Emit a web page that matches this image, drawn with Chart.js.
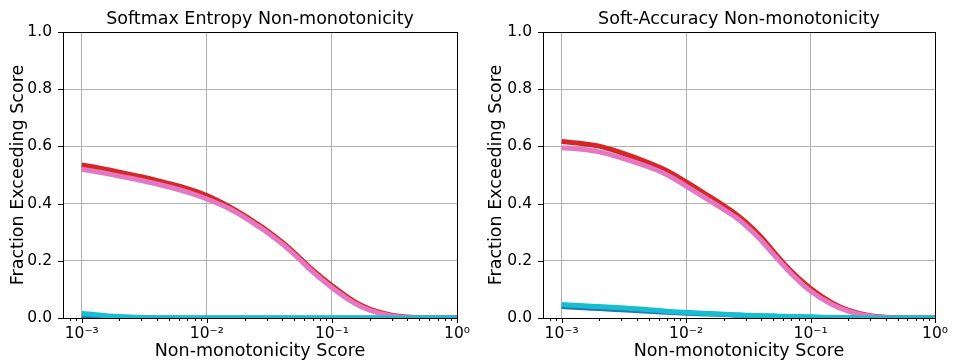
<!DOCTYPE html>
<html>
<head>
<meta charset="utf-8">
<script src="https://cdn.jsdelivr.net/npm/chart.js@4"></script>
<style>
  html, body { margin: 0; padding: 0; background: #fff; }
  body { width: 955px; height: 364px; position: relative; overflow: hidden; }
  .panel { position: absolute; top: 0; width: 477px; height: 364px; }
  #p-left { left: 0; }
  #p-right { left: 478px; }
</style>
</head>
<body>
<div class="panel" id="p-left"><canvas id="c-left"></canvas></div>
<div class="panel" id="p-right"><canvas id="c-right"></canvas></div>
<script>
// two panels: fraction of samples whose non-monotonicity score exceeds x

const FONT = "'DejaVu Sans', sans-serif";
const COLORS = { red: "#d62728", pink: "#e377c2", cyan: "#17becf", blue: "#1f77b4" };

// shared x grid (scores)
const xScores = [0.001, 0.0015, 0.002, 0.003, 0.005, 0.007, 0.01, 0.015, 0.02, 0.025, 0.03,
  0.04, 0.05, 0.07, 0.1, 0.15, 0.2, 0.3, 0.5, 0.7, 1.0];

// softmax entropy panel
const entropyRed  = [0.535, 0.521, 0.510, 0.494, 0.470, 0.452, 0.428, 0.390, 0.358, 0.330, 0.307,
  0.265, 0.228, 0.168, 0.113, 0.058, 0.031, 0.010, 0.001, 0.0, 0.0];
const entropyPink = [0.520, 0.507, 0.496, 0.481, 0.458, 0.440, 0.416, 0.383, 0.352, 0.324, 0.301,
  0.259, 0.222, 0.162, 0.106, 0.053, 0.027, 0.007, 0.0, 0.0, 0.0];
const entropyCyan = [0.016, 0.009, 0.005, 0.002, 0.001, 0.0, 0.0, 0.0, 0.0, 0.0, 0.0,
  0.0, 0.0, 0.0, 0.0, 0.0, 0.0, 0.0, 0.0, 0.0, 0.0];
const entropyBlue = [0.008, 0.004, 0.002, 0.001, 0.0, 0.0, 0.0, 0.0, 0.0, 0.0, 0.0,
  0.0, 0.0, 0.0, 0.0, 0.0, 0.0, 0.0, 0.0, 0.0, 0.0];

// soft-accuracy panel
const accRed  = [0.617, 0.609, 0.601, 0.578, 0.543, 0.515, 0.476, 0.428, 0.393, 0.364, 0.336,
  0.283, 0.234, 0.163, 0.103, 0.052, 0.028, 0.008, 0.001, 0.0, 0.0];
const accPink = [0.595, 0.589, 0.581, 0.560, 0.528, 0.501, 0.461, 0.414, 0.380, 0.352, 0.324,
  0.272, 0.224, 0.155, 0.094, 0.046, 0.024, 0.006, 0.0, 0.0, 0.0];
const accCyan = [0.047, 0.043, 0.040, 0.036, 0.029, 0.024, 0.020, 0.016, 0.013, 0.011, 0.010,
  0.008, 0.007, 0.005, 0.004, 0.002, 0.001, 0.0, 0.0, 0.0, 0.0];
const accBlue = [0.040, 0.036, 0.033, 0.029, 0.024, 0.020, 0.017, 0.014, 0.012, 0.010, 0.009,
  0.007, 0.006, 0.004, 0.003, 0.001, 0.001, 0.0, 0.0, 0.0, 0.0];

const yTicks = [0, 0.2, 0.4, 0.6, 0.8, 1.0];
const X_MIN = Math.pow(10, -3.15), X_MAX = 1;

const SUP = { "-": "\u207b", "0": "\u2070", "1": "\u00b9", "2": "\u00b2", "3": "\u00b3",
  "4": "\u2074", "5": "\u2075", "6": "\u2076", "7": "\u2077", "8": "\u2078", "9": "\u2079" };
const isMajor = (v) => Math.abs(Math.log10(v) - Math.round(Math.log10(v))) < 1e-6;
const powLabel = (v) => "10" + String(Math.round(Math.log10(v))).split("").map((c) => SUP[c]).join("");

// log tick positions m x 10^n inside the range
function logTicks() {
  const out = [];
  for (let e = -4; e <= 0; e++)
    for (let m = 1; m <= 9; m++) {
      const v = m * Math.pow(10, e);
      if (v >= X_MIN - 1e-12 && v <= X_MAX + 1e-12) out.push({ value: v });
    }
  return out;
}

// matplotlib-like frame + outward tick marks
const framePlugin = {
  id: "frame",
  afterDraw(chart) {
    const { ctx, chartArea: a, scales: { x, y } } = chart;
    ctx.save();
    ctx.strokeStyle = "#000";
    ctx.lineWidth = 1;
    ctx.beginPath();
    for (const t of x.ticks) {
      const px = Math.round(x.getPixelForValue(t.value)) + 0.5;
      const len = isMajor(t.value) ? 5 : 3;
      ctx.moveTo(px, a.bottom); ctx.lineTo(px, a.bottom + len);
    }
    for (const t of y.ticks) {
      const py = Math.round(y.getPixelForValue(t.value)) + 0.5;
      ctx.moveTo(a.left, py); ctx.lineTo(a.left - 5, py);
    }
    ctx.stroke();
    ctx.strokeRect(Math.round(a.left) + 0.5, Math.round(a.top) + 0.5,
      Math.round(a.right - a.left), Math.round(a.bottom - a.top));
    ctx.restore();
  },
};

function line(data, color) {
  return {
    data: xScores.map((x, i) => ({ x, y: data[i] })),
    borderColor: color, backgroundColor: color, borderWidth: 5,
    pointRadius: 0, cubicInterpolationMode: "monotone", fill: false,
  };
}

function draw(id, title, series, yAxisWidth, rightPad) {
  new Chart(document.getElementById(id), {
    type: "line",
    data: {
      // first dataset is painted last (on top)
      datasets: [line(series.cyan, COLORS.cyan), line(series.pink, COLORS.pink),
        line(series.red, COLORS.red), line(series.blue, COLORS.blue)],
    },
    options: {
      responsive: true, maintainAspectRatio: false, animation: false,
      layout: { padding: { left: 0, right: rightPad, top: 0, bottom: 0 } },
      plugins: {
        legend: { display: false }, tooltip: { enabled: false },
        title: { display: true, text: title, fullSize: false, color: "#000",
          font: { family: FONT, size: 17.5, weight: "normal" }, padding: { top: 9, bottom: 2 } },
      },
      scales: {
        x: {
          type: "logarithmic", min: X_MIN, max: X_MAX,
          afterBuildTicks: (s) => { s.ticks = logTicks(); },
          afterFit: (s) => { s.height = 46; },
          grid: { drawTicks: false, color: (c) => (c.tick && isMajor(c.tick.value) ? "#b0b0b0" : "rgba(0,0,0,0)") },
          border: { display: false },
          ticks: { autoSkip: false, maxRotation: 0, padding: 7, color: "#000",
            font: { family: FONT, size: 15.5 },
            callback: (v) => (isMajor(v) ? powLabel(v) : "") },
          title: { display: true, text: "Non-monotonicity Score", color: "#000",
            font: { family: FONT, size: 17.5 }, padding: { top: 0, bottom: 2 } },
        },
        y: {
          min: 0, max: 1,
          afterBuildTicks: (s) => { s.ticks = yTicks.map((value) => ({ value })); },
          afterFit: (s) => { s.width = yAxisWidth; },
          grid: { drawTicks: false, color: "#b0b0b0" },
          border: { display: false },
          ticks: { padding: 11, color: "#000", font: { family: FONT, size: 15.5 },
            callback: (v) => v.toFixed(1) },
          title: { display: true, text: "Fraction Exceeding Score", color: "#000",
            font: { family: FONT, size: 17.5 }, padding: { top: 8, bottom: 0 } },
        },
      },
    },
    plugins: [framePlugin],
  });
}

draw("c-left", "Softmax Entropy Non-monotonicity",
  { red: entropyRed, pink: entropyPink, cyan: entropyCyan, blue: entropyBlue }, 63, 18);
draw("c-right", "Soft-Accuracy Non-monotonicity",
  { red: accRed, pink: accPink, cyan: accCyan, blue: accBlue }, 65, 15);
</script>
</body>
</html>
